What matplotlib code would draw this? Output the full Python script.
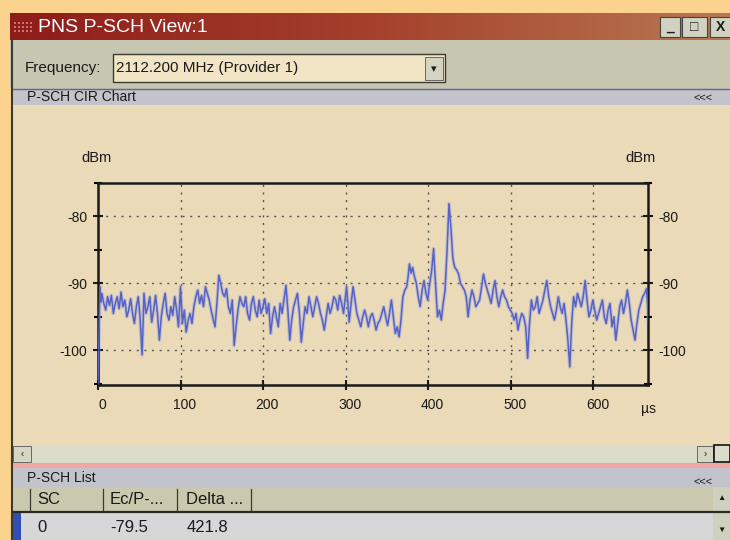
import numpy as np
import matplotlib
matplotlib.use("Agg")
import matplotlib.pyplot as plt
from matplotlib.patches import Rectangle
from matplotlib.colors import LinearSegmentedColormap
import matplotlib.transforms as mtransforms

plt.rcParams["font.family"] = ["Liberation Sans", "DejaVu Sans"]

# ---------- Data ----------
TIME_US = [
    0.0, 2.3, 3.5, 4.6, 7.0, 9.3, 11.6, 13.9, 16.2, 18.6, 20.9, 23.2, 25.6, 27.9,
    30.2, 32.5, 34.9, 37.2, 39.5, 41.8, 44.1, 46.4, 48.8, 51.1, 53.4, 55.7, 58.0,
    60.4, 62.7, 65.0, 67.4, 69.7, 72.0, 74.3, 76.6, 79.0, 81.3, 83.6, 85.9, 88.2,
    90.6, 92.9, 95.2, 97.5, 99.9, 102.2, 104.5, 106.8, 109.2, 111.5, 113.8, 116.1,
    118.5, 120.8, 123.1, 125.4, 127.8, 130.1, 132.4, 134.7, 137.0, 139.3, 141.7,
    144.0, 146.3, 148.6, 151.0, 153.3, 155.6, 157.9, 160.3, 162.6, 164.9, 167.2,
    169.5, 171.9, 174.2, 176.5, 178.8, 181.1, 183.5, 185.8, 188.1, 190.4, 192.8,
    195.1, 197.4, 199.7, 202.0, 204.4, 206.7, 209.0, 211.4, 213.7, 216.0, 218.3,
    220.6, 222.9, 225.2, 227.6, 229.9, 232.2, 234.5, 236.9, 239.2, 241.5, 243.9,
    246.2, 248.5, 250.8, 253.1, 255.5, 257.8, 260.1, 262.4, 264.7, 267.0, 269.4,
    271.7, 274.0, 276.4, 278.7, 281.0, 283.3, 285.6, 288.0, 290.3, 292.6, 295.0,
    297.3, 299.1, 301.0, 302.6, 304.2, 306.5, 308.9, 311.2, 313.5, 315.8, 318.2,
    320.5, 322.8, 325.1, 327.4, 329.8, 332.1, 334.4, 336.7, 339.0, 341.4, 343.7,
    346.0, 348.4, 350.7, 353.0, 355.3, 357.6, 360.0, 362.3, 364.6, 366.9, 369.2,
    371.6, 373.9, 375.5, 377.1, 379.0, 380.9, 383.2, 385.5, 387.8, 390.1, 392.5,
    394.8, 397.1, 399.4, 400.6, 401.8, 404.1, 406.4, 407.5, 408.7, 409.9, 411.1,
    413.4, 415.7, 418.0, 420.3, 422.7, 425.0, 426.2, 427.3, 428.5, 429.6, 430.8,
    432.0, 434.3, 436.6, 438.9, 441.2, 443.6, 445.9, 447.0, 448.2, 450.5, 452.9,
    455.2, 457.5, 459.8, 462.1, 464.5, 466.8, 469.1, 471.4, 473.8, 476.1, 478.4,
    480.7, 483.0, 485.4, 487.7, 490.0, 492.3, 494.7, 497.0, 499.3, 501.6, 503.9,
    506.2, 508.6, 510.9, 513.2, 515.5, 517.9, 519.0, 520.2, 522.5, 524.8, 527.1,
    529.5, 531.8, 534.1, 536.5, 538.8, 541.1, 543.4, 545.8, 548.1, 550.4, 552.7,
    555.0, 557.4, 559.7, 562.0, 564.4, 566.7, 569.0, 571.3, 573.6, 575.9, 578.3,
    580.6, 582.9, 585.2, 587.5, 589.9, 592.2, 594.5, 596.9, 599.2, 601.5, 603.8,
    606.1, 608.5, 610.8, 613.1, 615.4, 617.7, 620.0, 622.4, 624.7, 627.0, 629.4,
    631.7, 634.0, 636.3, 638.6, 641.0, 643.3, 645.6, 648.0, 650.3, 652.6, 654.9,
    657.2, 659.6, 661.9, 664.2, 665.8, 667.4,
]
LEVEL_DBM = [
    -105.0, -90.5, -92.8, -91.5, -93.0, -94.0, -92.0, -93.3, -91.8, -94.5, -93.0,
    -92.0, -93.8, -91.3, -93.5, -92.5, -95.0, -94.0, -92.3, -94.5, -96.0, -93.5,
    -92.0, -95.5, -100.7, -91.5, -94.5, -93.5, -92.0, -95.8, -94.0, -91.8, -94.5,
    -98.5, -95.0, -93.0, -91.5, -94.5, -95.5, -93.5, -94.8, -92.0, -94.0, -96.5,
    -90.5, -96.0, -94.0, -97.3, -95.5, -94.5, -96.0, -93.5, -92.0, -91.0, -93.0,
    -91.8, -93.5, -90.5, -91.5, -92.5, -94.0, -95.3, -96.5, -93.0, -88.8, -90.0,
    -91.5, -92.0, -90.8, -93.5, -94.5, -92.5, -99.3, -96.5, -94.0, -92.0, -93.0,
    -93.5, -92.0, -94.5, -95.5, -93.0, -92.0, -94.0, -95.0, -92.5, -94.5, -93.5,
    -92.3, -94.5, -93.0, -97.5, -95.0, -93.5, -95.0, -96.5, -93.0, -94.5, -92.5,
    -90.3, -94.0, -98.5, -95.5, -93.5, -92.5, -91.5, -94.5, -98.8, -96.0, -93.5,
    -94.5, -92.0, -93.5, -95.0, -93.5, -92.0, -93.0, -94.5, -95.5, -97.0, -95.0,
    -93.0, -94.5, -93.5, -92.0, -92.5, -94.0, -91.8, -93.0, -94.5, -92.5, -90.5,
    -93.0, -95.8, -93.0, -90.5, -92.5, -94.5, -95.5, -96.5, -95.0, -94.0, -95.0,
    -96.5, -95.0, -94.5, -95.5, -97.0, -96.0, -95.5, -94.5, -93.5, -95.0, -96.3,
    -94.5, -92.5, -95.0, -97.5, -96.5, -98.0, -95.5, -92.0, -91.0, -90.5, -89.0,
    -87.1, -88.5, -87.6, -89.0, -90.0, -92.0, -93.5, -91.0, -89.6, -91.5, -92.5,
    -91.0, -90.0, -88.0, -84.8, -87.5, -90.0, -92.5, -95.0, -94.0, -95.5, -93.0,
    -91.0, -85.0, -78.1, -80.0, -81.6, -84.0, -86.1, -87.0, -87.6, -88.0, -88.6,
    -90.0, -90.5, -91.0, -92.0, -93.5, -95.0, -92.5, -91.0, -92.0, -93.5, -93.0,
    -92.5, -90.5, -88.6, -90.0, -91.0, -92.0, -93.0, -91.0, -89.6, -92.0, -93.5,
    -92.0, -91.0, -92.0, -92.5, -93.5, -94.0, -94.5, -95.5, -94.5, -97.0, -95.5,
    -94.5, -95.0, -96.5, -98.5, -101.2, -96.0, -92.5, -94.0, -93.5, -92.0, -94.5,
    -93.5, -92.5, -91.0, -89.6, -92.0, -93.5, -94.5, -95.5, -94.0, -92.0, -93.5,
    -94.5, -93.0, -95.5, -98.5, -102.5, -96.0, -92.0, -93.5, -91.5, -92.5, -93.5,
    -92.0, -89.6, -92.5, -95.0, -94.0, -92.5, -94.0, -95.5, -94.5, -93.5, -92.5,
    -95.0, -96.0, -94.0, -93.0, -96.5, -95.0, -98.5, -96.0, -93.5, -92.5, -94.5,
    -93.0, -91.0, -93.0, -95.5, -97.0, -98.5, -96.0, -94.0, -93.0, -92.0, -91.5,
    -90.8, -94.0, -98.5,
]
X_TICKS = [0, 100, 200, 300, 400, 500, 600]
Y_TICKS = [-100, -90, -80]
Y_MINOR = [-105, -95, -85, -75]

TABLE_COLS = ["SC", "Ec/P-...", "Delta ..."]
TABLE_ROW = ["0", "-79.5", "421.8"]

W, H = 730, 540

# ---------- Figure + UI layer (pixel coords) ----------
fig = plt.figure(figsize=(W / 100, H / 100), dpi=100)
fig.patch.set_facecolor("#fbd38f")
ui = fig.add_axes([0, 0, 1, 1])
ui.set_xlim(0, W)
ui.set_ylim(H, 0)
ui.axis("off")


def box(x0, y0, x1, y1, fc, ec="none", lw=0, z=1):
    ui.add_patch(Rectangle((x0, y0), x1 - x0, y1 - y0, fc=fc, ec=ec, lw=lw, zorder=z))


def txt(x, y, s, size=8.5, color="#1a1a1a", **kw):
    ui.text(x, y, s, fontsize=size, color=color, va="center", zorder=5, **kw)


# title bar with gradient
grad = np.linspace(0, 1, 256)[None, :]
title_cmap = LinearSegmentedColormap.from_list("tb", ["#8e1c1a", "#a5402c", "#b87852"])
ui.imshow(grad, extent=(10, W, 40, 13), aspect="auto", cmap=title_cmap, zorder=1)
for gx in range(14, 34, 4):
    for gy in (22, 26, 30):
        box(gx, gy, gx + 2, gy + 2, "#d07070", z=2)
txt(38, 27, "PNS P-SCH View:1", size=14, color="white")

# window buttons
for bx0, bx1, s in [(660, 680, "_"), (682, 707, "□"), (710, 731, "X")]:
    box(bx0, 17, bx1, 37, "#d2d2c2", ec="#444444", lw=0.8, z=2)
    txt((bx0 + bx1) / 2, 27, s, size=10, ha="center", weight="bold")

# top control panel
box(10, 40, W, 88, "#c7c7b1", z=1)
ui.plot([12, 12], [40, H], color="#3a3a30", lw=1.5, zorder=3)
txt(25, 68, "Frequency:", size=11)
box(113, 54, 445, 82, "#f1e5c6", ec="#3a3a30", lw=1.0, z=2)
txt(116, 68, "2112.200 MHz (Provider 1)", size=11)
box(425, 57, 443, 80, "#d4d4c4", ec="#555555", lw=0.6, z=3)
txt(434, 69, "▾", size=8, ha="center")

# chart header strip
box(12, 88, W, 105, "#c3c3cb", z=1)
ui.plot([12, W], [88.5, 88.5], color="#6a6a5a", lw=1, zorder=2)
txt(27, 97, "P-SCH CIR Chart", size=10)
txt(703, 98, "<<<", size=8, ha="center")

# chart body
box(13, 105, W, 445, "#eadab7", z=1)

# horizontal scrollbar
box(13, 445, W, 463, "#dcdccb", z=1)
box(13, 446, 31, 462, "#d6d6c4", ec="#555555", lw=0.6, z=2)
txt(22, 454, "‹", size=7, ha="center")
box(697, 446, 713, 462, "#d6d6c4", ec="#555555", lw=0.6, z=2)
txt(705, 454, "›", size=7, ha="center")
box(714, 445, 730, 462, "#dcdccb", ec="#111111", lw=1.2, z=2)

# pink separator
box(13, 463, W, 468, "#f2a6a6", z=1)

# list header strip
box(13, 468, W, 487, "#c3c3cb", z=1)
txt(27, 478, "P-SCH List", size=10)
txt(703, 482, "<<<", size=8, ha="center")

# table header row
box(13, 487, W, 512, "#cbc9ad", z=1)
ui.plot([13, W], [512, 512], color="#2a2a22", lw=1.6, zorder=3)
for sx in (30, 103, 177, 251):
    ui.plot([sx, sx], [489, 510], color="#3a3a30", lw=0.9, zorder=3)
for col, cx in zip(TABLE_COLS, (37, 110, 186)):
    txt(cx, 500, col, size=12)

# table data row
box(13, 513, W, H, "#d7d7d7", z=1)
box(13, 513, 21, H, "#2e4fb4", z=2)
for val, cx in zip(TABLE_ROW, (37, 110, 187)):
    txt(cx, 527, val, size=12)

# vertical scrollbar of the list
box(713, 487, W, H, "#d0d0c0", z=2)
txt(721, 498, "▲", size=6, ha="center")
ui.plot([713, W], [512, 512], color="#2a2a22", lw=1.2, zorder=3)
txt(721, 530, "▼", size=6, ha="center")

# ---------- Chart axes ----------
L, R, T, B = 98, 648, 183, 385
ax = fig.add_axes([L / W, 1 - B / H, (R - L) / W, (B - T) / H])
ax.set_facecolor("none")
# soft halo + core, the screenshot trace is slightly blurred
ax.plot(TIME_US, LEVEL_DBM, color="#a3a8dc", lw=2.6, alpha=0.55, zorder=2)
ax.plot(TIME_US, LEVEL_DBM, color="#5663c4", lw=1.1, zorder=3)
ax.set_xlim(0, 666)
ax.set_ylim(-105.2, -75)

ax.set_xticks(X_TICKS)
ax.set_yticks(Y_TICKS)
ax.set_yticks(Y_MINOR, minor=True)
ax.set_yticklabels([str(v) for v in Y_TICKS])
for g in X_TICKS[1:]:
    ax.axvline(g, color="#555555", ls=(0, (1.5, 4)), lw=1.0, zorder=1)
for g in Y_TICKS:
    ax.axhline(g, color="#555555", ls=(0, (1.5, 4)), lw=1.0, zorder=1)

ax.tick_params(axis="both", which="major", direction="inout", length=7, width=1.5,
               labelsize=10, colors="#1a1a1a")
ax.tick_params(axis="y", which="both", left=True, right=True, labelright=True)
ax.tick_params(axis="y", which="minor", direction="inout", length=6, width=1.5)
ax.tick_params(axis="y", which="major", pad=4)
ax.tick_params(axis="x", pad=6)
for sp in ax.spines.values():
    sp.set_linewidth(1.8)
    sp.set_color("#1a1a1a")

shift = mtransforms.ScaledTranslation(0.04, 0, fig.dpi_scale_trans)
for lab in ax.get_xticklabels():
    lab.set_transform(lab.get_transform() + shift)

txt(96, 158, "dBm", size=10.5, ha="center")
txt(641, 158, "dBm", size=10.5, ha="center")
txt(649, 409, "µs", size=10, ha="center")

fig.savefig("out.png", dpi=100, facecolor=fig.get_facecolor())
